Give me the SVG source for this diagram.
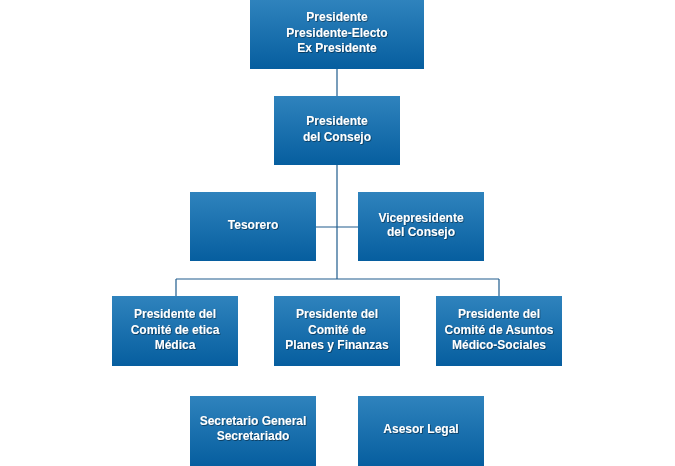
<svg xmlns="http://www.w3.org/2000/svg" width="675" height="466" viewBox="0 0 675 466">
<defs>
<linearGradient id="g" x1="0" y1="0" x2="0" y2="1">
<stop offset="0" stop-color="#2f83bd"/>
<stop offset="1" stop-color="#065e9f"/>
</linearGradient>
<filter id="sh" x="-10%" y="-10%" width="120%" height="130%">
<feDropShadow dx="0.7" dy="0.7" stdDeviation="0.4" flood-color="#000" flood-opacity="0.6"/>
</filter>
<style>
.box{fill:url(#g);}
.t{font-family:"Liberation Sans",Arial,sans-serif;font-weight:bold;font-size:12px;fill:#fff;text-anchor:middle;filter:url(#sh);}
.c{stroke:#205d8e;stroke-width:1.2;fill:none;}
</style>
</defs>
<rect width="675" height="466" fill="#fff"/>
<g id="connectors">
<path class="c" d="M337 69V96M337 165V279M316 227H358M176 279H499M176 279V296M499 279V296"/>
</g>
<g id="n1"><rect class="box" x="250" y="0" width="174" height="69"/>
<text class="t" x="337" y="21">Presidente</text><text class="t" x="337" y="36.5">Presidente-Electo</text><text class="t" x="337" y="52">Ex Presidente</text></g>
<g id="n2"><rect class="box" x="274" y="96" width="126" height="69"/>
<text class="t" x="337" y="124.5">Presidente</text><text class="t" x="337" y="141">del Consejo</text></g>
<g id="n3"><rect class="box" x="190" y="192" width="126" height="69"/>
<text class="t" x="253" y="229">Tesorero</text></g>
<g id="n4"><rect class="box" x="358" y="192" width="126" height="69"/>
<text class="t" x="421" y="221.5">Vicepresidente</text><text class="t" x="421" y="236">del Consejo</text></g>
<g id="n5"><rect class="box" x="112" y="296" width="126" height="70"/>
<text class="t" x="175" y="318">Presidente del</text><text class="t" x="175" y="333.5">Comité de etica</text><text class="t" x="175" y="349">Médica</text></g>
<g id="n6"><rect class="box" x="274" y="296" width="126" height="70"/>
<text class="t" x="337" y="318">Presidente del</text><text class="t" x="337" y="333.5">Comité de</text><text class="t" x="337" y="349">Planes y Finanzas</text></g>
<g id="n7"><rect class="box" x="436" y="296" width="126" height="70"/>
<text class="t" x="499" y="318">Presidente del</text><text class="t" x="499" y="333.5">Comité de Asuntos</text><text class="t" x="499" y="349">Médico-Sociales</text></g>
<g id="n8"><rect class="box" x="190" y="396" width="126" height="70"/>
<text class="t" x="253" y="425">Secretario General</text><text class="t" x="253" y="440">Secretariado</text></g>
<g id="n9"><rect class="box" x="358" y="396" width="126" height="70"/>
<text class="t" x="421" y="433">Asesor Legal</text></g>
</svg>
